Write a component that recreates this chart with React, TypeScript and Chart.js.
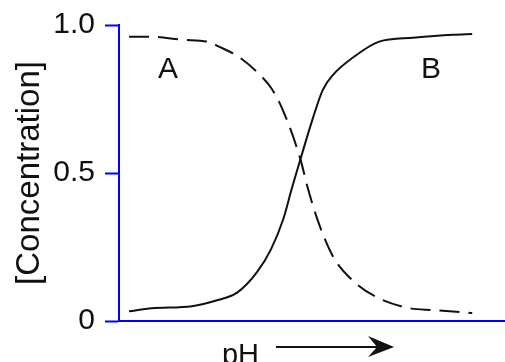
import React, { useEffect, useRef } from "react";
import { Chart, registerables } from "chart.js";

Chart.register(...registerables);

// Curve A (dashed) – falling
const xA = [0.26, 0.85, 1.66, 2.28, 2.59, 3.13, 3.73, 3.96, 4.25, 4.69, 4.90, 5.16, 5.54, 6.06, 6.68, 7.54, 8.13, 9.15];
const yA = [0.960, 0.960, 0.950, 0.944, 0.927, 0.890, 0.821, 0.784, 0.711, 0.551, 0.445, 0.336, 0.219, 0.136, 0.080, 0.043, 0.037, 0.027];

// Curve B (solid) – rising
const xB = [0.26, 0.85, 1.89, 2.54, 3.06, 3.58, 3.94, 4.25, 4.48, 4.69, 5.03, 5.28, 5.54, 6.06, 6.74, 7.62, 8.65, 9.15];
const yB = [0.033, 0.043, 0.050, 0.070, 0.096, 0.166, 0.243, 0.342, 0.449, 0.542, 0.688, 0.781, 0.831, 0.890, 0.944, 0.957, 0.967, 0.970];

const yTickValues = [0, 0.5, 1];
const yTickLabels = ["0", "0.5", "1.0"];

const curveLabels = ["A", "B"];
const curveLabelX = [1.27, 8.08];
const curveLabelY = [0.85, 0.85];

const yTitle = "[Concentration]";
const xTitle = "pH";

const REGULAR = "'Liberation Sans', Arial, sans-serif";
const BLUE = "#0000ff";
const INK = "#111111";

const annotPlugin = {
  id: "annot",
  afterDraw(chart: any) {
    const { ctx, chartArea, scales } = chart;
    const x = scales.x;
    const y = scales.y;
    ctx.save();
    ctx.fillStyle = INK;
    ctx.font = `30px ${REGULAR}`;
    ctx.textAlign = "center";
    ctx.textBaseline = "middle";
    curveLabels.forEach((t, i) => {
      ctx.fillText(t, x.getPixelForValue(curveLabelX[i]), y.getPixelForValue(curveLabelY[i]));
    });
    // x-axis title with arrow
    ctx.font = `29px ${REGULAR}`;
    ctx.textAlign = "left";
    ctx.textBaseline = "alphabetic";
    const w = ctx.measureText(xTitle).width;
    const gap = 17;
    const arrowLen = 118;
    const total = w + gap + arrowLen;
    const cx = (chartArea.left + chartArea.right) / 2 - 4;
    const sx = cx - total / 2;
    ctx.fillText(xTitle, sx, chartArea.bottom + 43);
    const ay = chartArea.bottom + 26;
    const ax0 = sx + w + gap;
    const ax1 = ax0 + arrowLen;
    ctx.strokeStyle = INK;
    ctx.lineWidth = 2;
    ctx.beginPath();
    ctx.moveTo(ax0, ay);
    ctx.lineTo(ax1 - 12, ay);
    ctx.stroke();
    ctx.beginPath();
    ctx.moveTo(ax1, ay);
    ctx.lineTo(ax1 - 26, ay - 11);
    ctx.lineTo(ax1 - 17, ay);
    ctx.lineTo(ax1 - 26, ay + 10);
    ctx.closePath();
    ctx.fill();
    ctx.restore();
  },
};

export default function App() {
  const ref = useRef<HTMLCanvasElement>(null);
  useEffect(() => {
    if (!ref.current) return;
    const chart = new Chart(ref.current, {
      type: "line",
      data: {
        datasets: [
          {
            label: "A",
            data: xA.map((x, i) => ({ x, y: yA[i] })),
            borderColor: INK,
            borderWidth: 2,
            borderDash: [20, 9],
            pointRadius: 0,
            cubicInterpolationMode: "monotone",
            fill: false,
          },
          {
            label: "B",
            data: xB.map((x, i) => ({ x, y: yB[i] })),
            borderColor: INK,
            borderWidth: 2,
            pointRadius: 0,
            cubicInterpolationMode: "monotone",
            fill: false,
          },
        ],
      },
      options: {
        animation: false,
        responsive: false,
        layout: { padding: { top: 20, left: 0, right: 0, bottom: 0 } },
        plugins: { legend: { display: false }, tooltip: { enabled: false } },
        scales: {
          x: {
            type: "linear",
            min: 0,
            max: 10,
            ticks: { display: false },
            grid: { display: false, drawTicks: false },
            border: { display: true, color: BLUE, width: 2 },
            afterFit: (s: any) => {
              s.height = 41;
            },
          },
          y: {
            type: "linear",
            min: 0,
            max: 1,
            afterBuildTicks: (s: any) => {
              s.ticks = yTickValues.map((v) => ({ value: v }));
            },
            ticks: {
              callback: (_v: any, i: number) => yTickLabels[i],
              color: INK,
              font: { family: REGULAR, size: 30, lineHeight: 1 },
              padding: 10,
            },
            grid: {
              drawOnChartArea: false,
              drawTicks: true,
              tickLength: 14,
              tickColor: BLUE,
              tickWidth: 2,
            },
            border: { display: true, color: BLUE, width: 2 },
            title: {
              display: true,
              text: yTitle,
              color: INK,
              font: { family: REGULAR, size: 33, lineHeight: 1 },
              padding: { top: 13, bottom: 0 },
            },
            afterFit: (s: any) => {
              s.width = 119;
            },
          },
        },
      },
      plugins: [annotPlugin],
    } as any);
    return () => chart.destroy();
  }, []);
  return (
    <div style={{ position: "absolute", left: 0, top: 0, width: 505, height: 362, background: "#fff" }}>
      <canvas ref={ref} width={505} height={362} style={{ display: "block" }} />
    </div>
  );
}
